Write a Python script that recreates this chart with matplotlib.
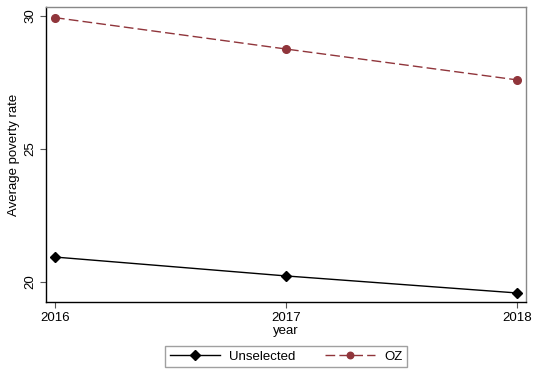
import matplotlib
matplotlib.use('Agg')
import matplotlib.pyplot as plt

years = [2016, 2017, 2018]
unselected = [20.94, 20.23, 19.59]
oz = [29.94, 28.76, 27.6]

plt.rcParams['font.family'] = ['Liberation Sans', 'DejaVu Sans']
plt.rcParams['font.size'] = 9.5

fig = plt.figure(figsize=(5.34, 3.74), dpi=100)
ax = fig.add_axes([0.0861, 0.1925, 0.8989, 0.7888])

ax.plot(years, unselected, color='black', marker='D', markersize=5.5, linewidth=1.0, label='Unselected')
ax.plot(years, oz, color='#90353b', marker='o', markersize=5.5, linewidth=1.0,
        linestyle=(0, (7, 3)), label='OZ')

ax.set_xlim(2015.961, 2018.039)
ax.set_ylim(19.25, 30.34)
ax.set_xticks(years)
ax.set_yticks([20, 25, 30])
ax.set_yticklabels(['20', '25', '30'], rotation=90, va='center')
ax.tick_params(direction='out', length=4, width=0.8, color='#555555', pad=3)

ax.spines['left'].set_color('black')
ax.spines['bottom'].set_color('black')
ax.spines['top'].set_color('#888888')
ax.spines['right'].set_color('#888888')
for s in ax.spines.values():
    s.set_linewidth(1.0)

ax.set_xlabel('year', labelpad=1)
ax.set_ylabel('Average poverty rate', labelpad=3)

leg = fig.legend(loc='lower center', bbox_to_anchor=(0.536, 0.0), ncol=2, frameon=True,
                 fancybox=False, edgecolor='#888888', handlelength=3.8, columnspacing=2.2,
                 borderpad=0.35, handletextpad=0.7, markerscale=0.85)
leg.get_frame().set_linewidth(1.0)

fig.savefig('out.png', dpi=100)
